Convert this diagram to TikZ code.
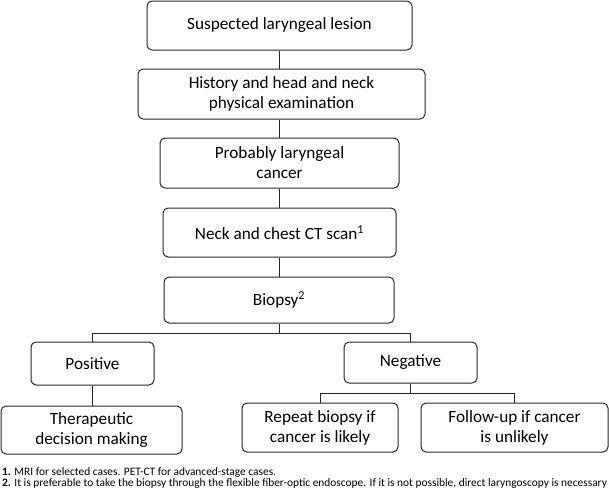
\documentclass[tikz,border=0pt]{standalone}
\usepackage{fontspec}
\setmainfont{Carlito}
\begin{document}
\begin{tikzpicture}[x=1pt,y=-1pt,
  box/.style={draw=black!85, line width=1pt, rounded corners=5pt, align=center,
    inner sep=0pt, font=\fontsize{17.2}{20}\selectfont},
  conn/.style={draw=black!85, line width=1pt}]
\useasboundingbox (0,0) rectangle (609,491);
\node[box, minimum width=265pt, minimum height=49pt] (b1) at (279.5,25.5) {Suspected laryngeal lesion};
\node[box, minimum width=287pt, minimum height=50pt] (b2) at (281.5,94) {History and head and neck\\physical examination};
\node[box, minimum width=239pt, minimum height=50pt] (b3) at (279.5,163) {Probably laryngeal\\cancer};
\node[box, minimum width=233pt, minimum height=49pt] (b4) at (279.5,232.5) {Neck and chest CT scan\textsuperscript{1}};
\node[box, minimum width=230pt, minimum height=46pt] (b5) at (279,300) {Biopsy\textsuperscript{2}};
\node[box, minimum width=123pt, minimum height=43pt] (pos) at (92.5,363.5) {Positive};
\node[box, minimum width=133pt, minimum height=41pt] (neg) at (410.5,362.5) {Negative};
\node[box, minimum width=181pt, minimum height=48pt] (ther) at (91.5,430) {Therapeutic\\decision making};
\node[box, minimum width=156pt, minimum height=49pt] (rep) at (320,427.5) {Repeat biopsy if\\cancer is likely};
\node[box, minimum width=187pt, minimum height=49pt] (fol) at (514.5,427.5) {Follow-up if cancer\\is unlikely};
\coordinate (j1) at (279,333);
\coordinate (j2) at (410.5,393);
\draw[conn] (b1.south) -- (b1.south |- b2.north);
\draw[conn] (b1.south |- b2.south) -- (b1.south |- b3.north);
\draw[conn] (b3.south) -- (b4.north);
\draw[conn] (b4.south) -- (b4.south |- b5.north);
\draw[conn] (b5.south -| j1) -- (j1);
\draw[conn] (pos.north) |- (j1) -| (neg.north);
\draw[conn] (pos.south) -- (pos.south |- ther.north);
\draw[conn] (neg.south) -- (j2);
\draw[conn] (rep.north) |- (j2) -| (fol.north);
\node[anchor=base west, inner sep=0pt, font=\fontsize{11.4}{11.4}\selectfont] (f1) at (2,475.5) {\textbf{1.} MRI for selected cases. PET-CT for advanced-stage cases.};
\node[anchor=base west, inner sep=0pt, font=\fontsize{11.4}{11.4}\selectfont] (f2) at (2,486.5) {\textbf{2.} It is preferable to take the biopsy through the flexible fiber-optic endoscope. If it is not possible, direct laryngoscopy is necessary};
\end{tikzpicture}
\end{document}
